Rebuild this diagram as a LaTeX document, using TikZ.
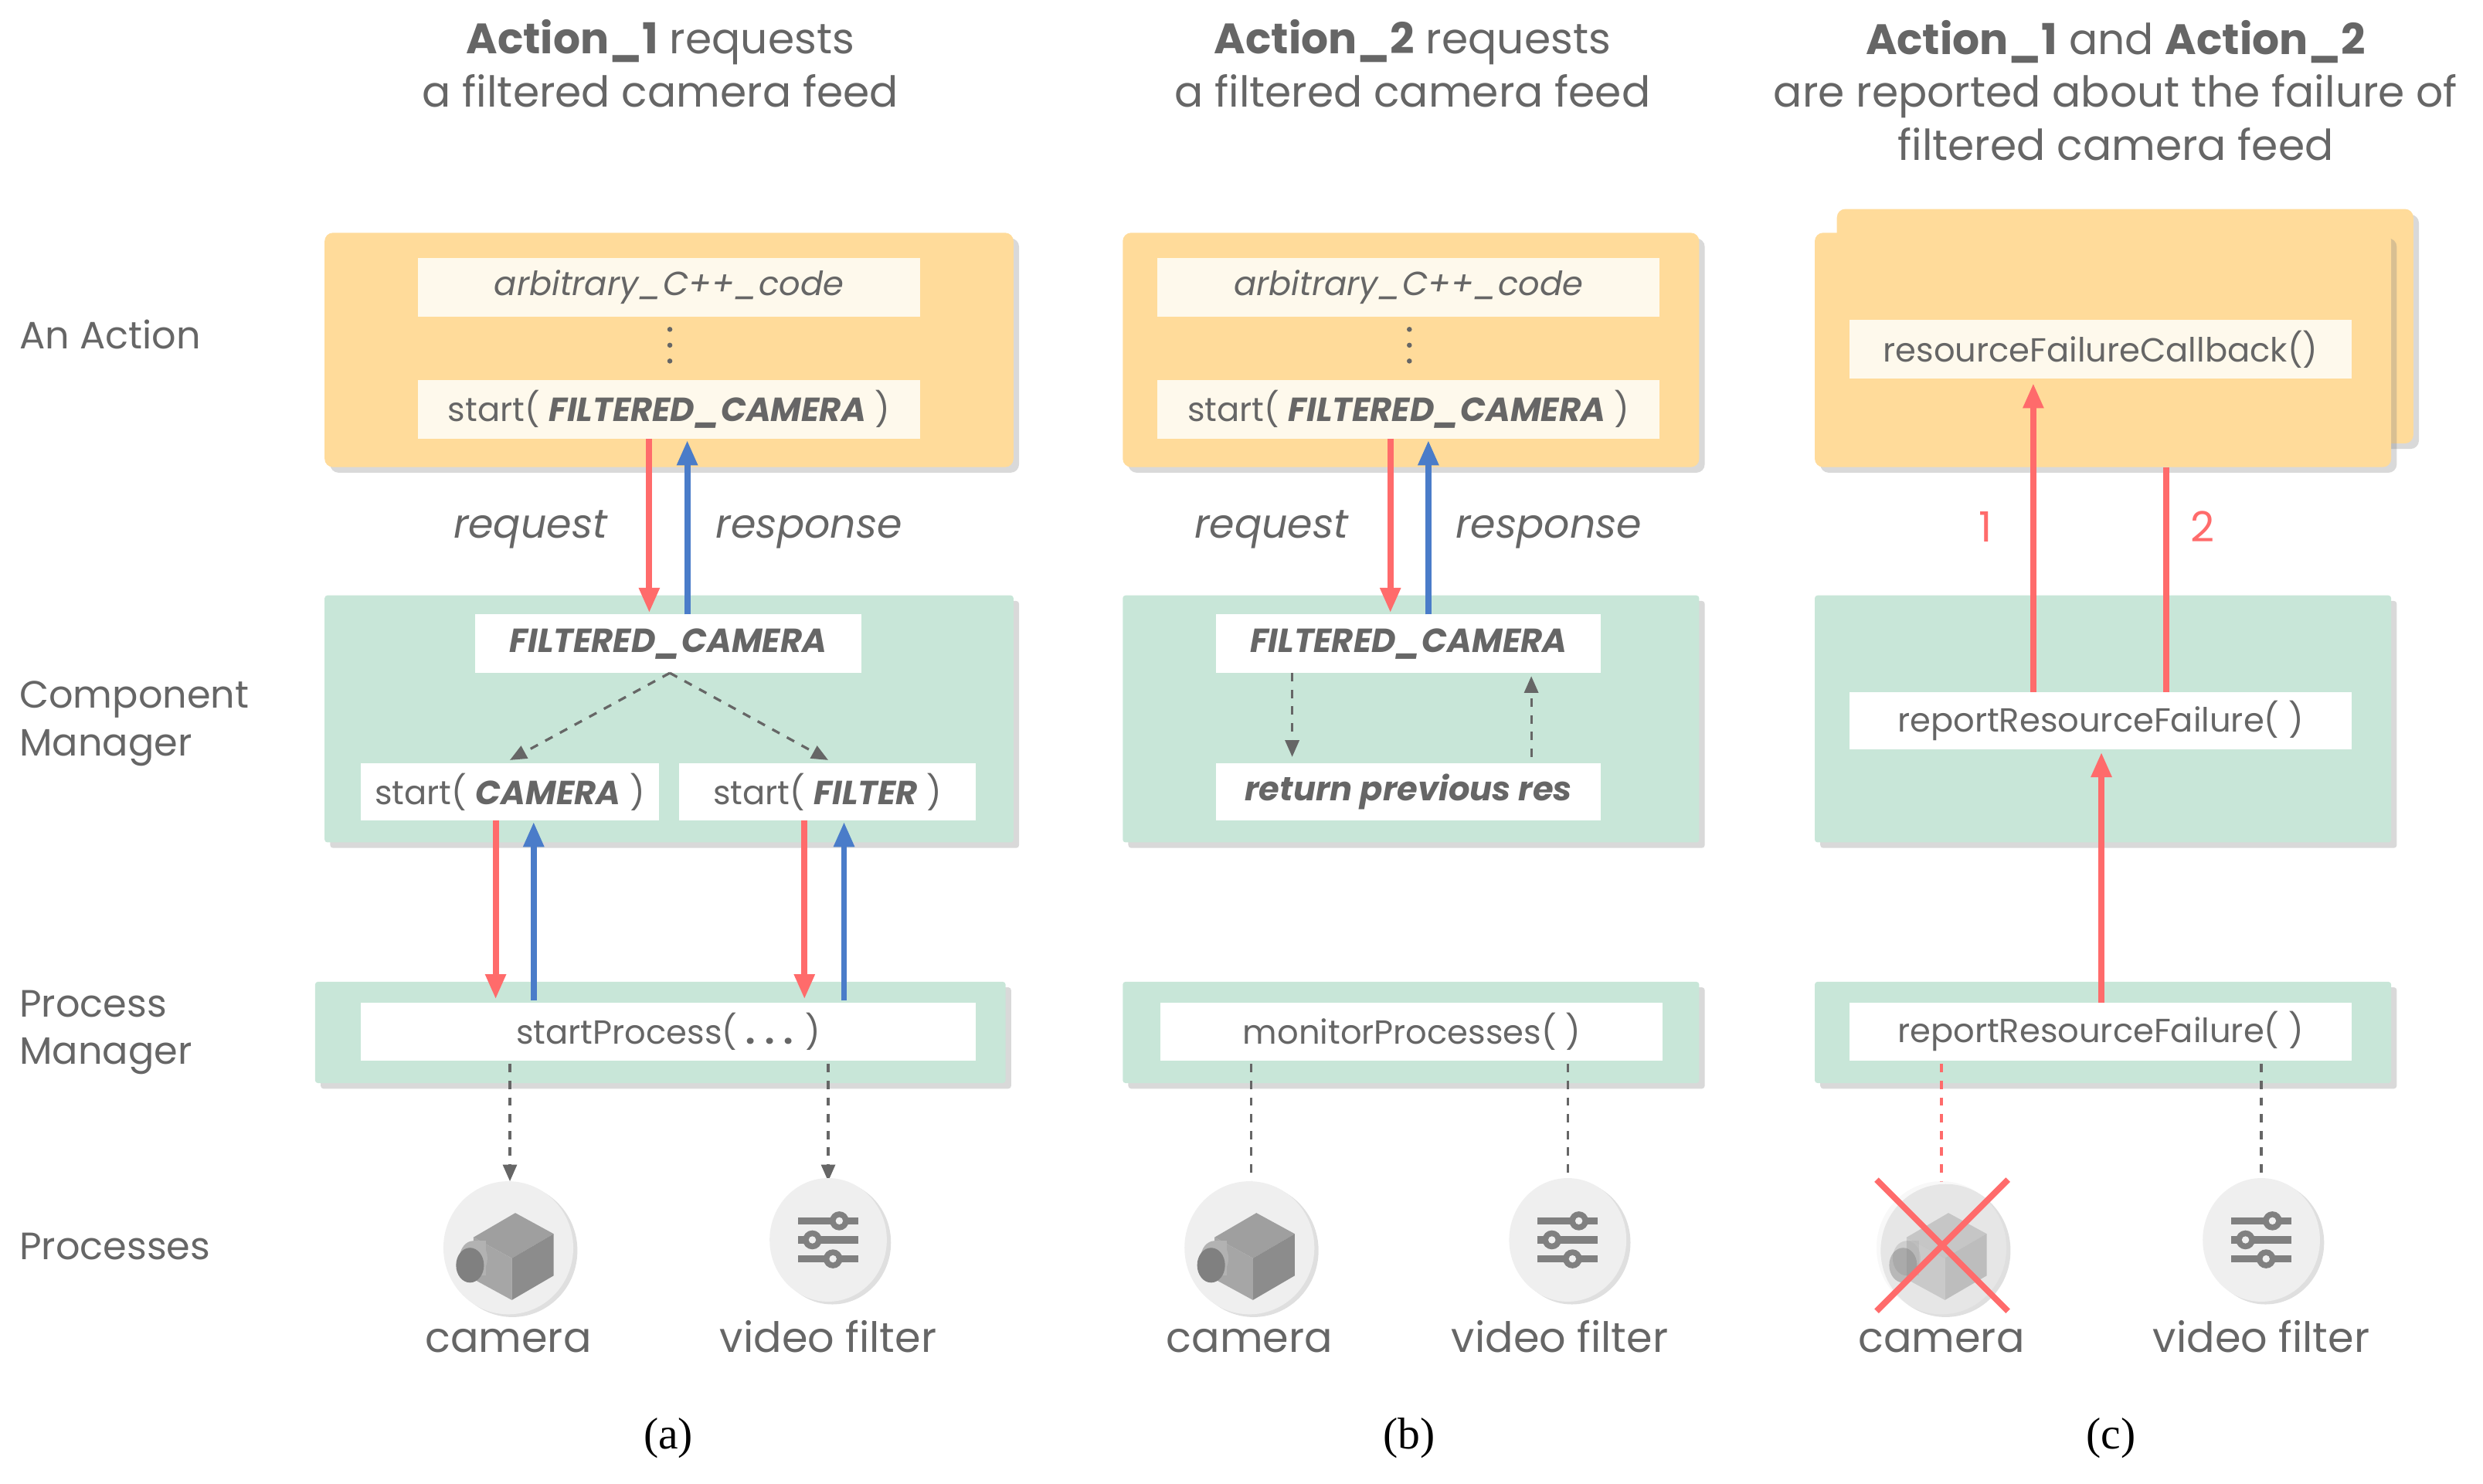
\documentclass[tikz,border=0pt]{standalone}
\usepackage{fontspec}
\setmainfont{Poppins}
\newfontfamily\serifcap{Liberation Serif}
\usetikzlibrary{shadows,arrows.meta}
\definecolor{txt}{HTML}{666666}
\definecolor{ora}{HTML}{FFDB9A}
\definecolor{inn}{HTML}{FEF9EC}
\definecolor{grn}{HTML}{C8E6D8}
\definecolor{rd}{HTML}{FF6B6B}
\definecolor{bl}{HTML}{4A7CC9}
\definecolor{circ}{HTML}{EFEFEF}
\begin{document}
\begin{tikzpicture}[x=0.02cm,y=-0.02cm,
  every node/.style={text=txt,inner sep=0pt},
  panel/.style={draw=none,drop shadow={shadow xshift=2pt,shadow yshift=-2pt,opacity=0.3}},
  abox/.style={panel,fill=ora,rounded corners=3pt},
  gbox/.style={panel,fill=grn,rounded corners=1pt},
  ibox/.style={fill=inn},
  wbox/.style={fill=white},
  btxt/.style={font=\fontsize{12}{15}\selectfont},
  ttl/.style={font=\fontsize{15.3}{19}\selectfont,align=center},
  side/.style={font=\fontsize{13.7}{17}\selectfont,anchor=west,align=left},
  plabel/.style={font=\fontsize{15}{19}\selectfont,anchor=base},
  ilab/.style={font=\fontsize{14.5}{18}\selectfont\itshape,anchor=base},
  captxt/.style={font=\serifcap\fontsize{16}{19}\selectfont,text=black},
  ra/.style={draw=rd,line width=2.2pt,-{Triangle[length=9pt,width=7pt]}},
  ba/.style={draw=bl,line width=2.2pt,-{Triangle[length=9pt,width=7pt]}},
  da/.style={draw=txt,dashed,line width=0.9pt,-{Triangle[length=6pt,width=5pt]}},
  dl/.style={draw=txt,dashed,line width=0.9pt},
]
\useasboundingbox (0,0) rectangle (1568,937);
\newcommand{\camicon}[3]{% x y opacity
 \begin{scope}[shift={(#1,#2)},opacity=#3]
  \fill[circ,drop shadow={shadow xshift=1.5pt,shadow yshift=-1pt,opacity=0.25}] (0,0) ellipse (41 and 42);
  \begin{scope}[scale=1.1]
  \fill[gray!75] (-20,-6) -- (4,-20) -- (26,-8) -- (2,6) -- cycle;
  \fill[gray!90] (2,6) -- (26,-8) -- (26,16) -- (2,30) -- cycle;
  \fill[gray!130!black] (-20,-6) -- (2,6) -- (2,30) -- (-20,18) -- cycle;
  \fill[gray!60] (-20,6) ellipse (8 and 10);
  \fill[gray!60] (-20,-4) -- (-13,-4) -- (-13,16) -- (-20,16) -- cycle;
  \fill[gray] (-22,10) ellipse (8 and 10);
  \end{scope}
 \end{scope}}
\newcommand{\filticon}[2]{%
 \begin{scope}[shift={(#1,#2)}]
  \fill[circ,drop shadow={shadow xshift=1.5pt,shadow yshift=-1pt,opacity=0.25}] (0,0) ellipse (37 and 39);
  \foreach \yy/\xx in {-12/7,0/-10,12/3}{
   \draw[gray,line width=2.6pt] (-19,\yy) -- (19,\yy);
   \fill[gray] (\xx,\yy) circle (6);
   \fill[circ] (\xx,\yy) circle (2.3);}
 \end{scope}}
% side labels
\node[side] (la) at (12,211) {An Action};
\node[side] (lc) at (12,457) {Component\\Manager};
\node[side] (lp) at (12,652) {Process\\Manager};
\node[side] (lq) at (12,787) {Processes};
% titles
\node[ttl] (ta) at (417,40) {\textbf{Action\_1} requests\\a filtered camera feed};
\node[ttl] (tb) at (892,40) {\textbf{Action\_2} requests\\a filtered camera feed};
\node[ttl] (tc) at (1336,57) {\textbf{Action\_1} and \textbf{Action\_2}\\are reported about the failure of\\filtered camera feed};
% ===== (a)
\path[abox] (205,147) rectangle (640,295);
\path[gbox] (205,376) rectangle (640,532);
\path[gbox] (199,620) rectangle (635,684);
\node[ibox,btxt,minimum width=317*0.02cm,minimum height=37*0.02cm] (a1) at (422.5,181.5) {\itshape arbitrary\_C++\_code};
\node[ibox,btxt,minimum width=317*0.02cm,minimum height=37*0.02cm] (a2) at (422.5,258.5) {start( \textbf{\itshape FILTERED\_CAMERA} )};
\fill[txt] (423,208) circle (1.6) (423,218) circle (1.6) (423,228) circle (1.6);
\node[wbox,btxt,minimum width=244*0.02cm,minimum height=37*0.02cm] (a3) at (422,406.5) {\textbf{\itshape FILTERED\_CAMERA}};
\node[wbox,btxt,minimum width=188*0.02cm,minimum height=36*0.02cm] (a4) at (322,500) {start( \textbf{\itshape CAMERA} )};
\node[wbox,btxt,minimum width=187*0.02cm,minimum height=36*0.02cm] (a5) at (522.5,500) {start( \textbf{\itshape FILTER} )};
\node[wbox,btxt,minimum width=388*0.02cm,minimum height=37*0.02cm] (a6) at (422,651.5) {startProcess( \textbf{. . .} )};
\draw[ra] (410,277) -- (410,387);
\draw[ba] (434,388) -- (434,278);
\node[ilab] (rq1) at (335,340) {request};
\node[ilab] (rs1) at (511,340) {response};
\draw[da] (423,425) -- (322,480);
\draw[da] (423,425) -- (523,480);
\draw[ra] (313,518) -- (313,631);
\draw[ba] (337,632) -- (337,519);
\draw[ra] (508,518) -- (508,631);
\draw[ba] (533,632) -- (533,519);
\draw[da] (322,672) -- (322,746);
\draw[da] (523,672) -- (523,746);
\camicon{321}{788}{1}
\filticon{523}{783}
\node[plabel] (ca) at (321,854) {camera};
\node[plabel] (fa) at (523,854) {video filter};
\node[captxt] (capa) at (422,908) {(a)};
% ===== (b)
\path[abox] (709,147) rectangle (1073,295);
\path[gbox] (709,376) rectangle (1073,532);
\path[gbox] (709,620) rectangle (1073,684);
\node[ibox,btxt,minimum width=317*0.02cm,minimum height=37*0.02cm] (b1) at (889.5,181.5) {\itshape arbitrary\_C++\_code};
\node[ibox,btxt,minimum width=317*0.02cm,minimum height=37*0.02cm] (b2) at (889.5,258.5) {start( \textbf{\itshape FILTERED\_CAMERA} )};
\fill[txt] (890,208) circle (1.6) (890,218) circle (1.6) (890,228) circle (1.6);
\node[wbox,btxt,minimum width=243*0.02cm,minimum height=37*0.02cm] (b3) at (889.5,406.5) {\textbf{\itshape FILTERED\_CAMERA}};
\node[wbox,btxt,minimum width=243*0.02cm,minimum height=36*0.02cm] (b4) at (889.5,500) {\textbf{\itshape return previous res}};
\node[wbox,btxt,minimum width=317*0.02cm,minimum height=37*0.02cm] (b5) at (891.5,651.5) {monitorProcesses( )};
\draw[ra] (878,277) -- (878,387);
\draw[ba] (902,388) -- (902,278);
\node[ilab] (rq2) at (803,340) {request};
\node[ilab] (rs2) at (978,340) {response};
\draw[da] (816,425) -- (816,478);
\draw[da] (967,478) -- (967,427);
\draw[dl] (790,672) -- (790,746);
\draw[dl] (990,672) -- (990,746);
\camicon{789}{788}{1}
\filticon{990}{783}
\node[plabel] (cb) at (789,854) {camera};
\node[plabel] (fb) at (985,854) {video filter};
\node[captxt] (capb) at (890,908) {(b)};
% ===== (c)
\path[abox] (1160,132) rectangle (1524,280);
\path[abox] (1146,147) rectangle (1510,295);
\path[gbox] (1146,376) rectangle (1510,532);
\path[gbox] (1146,620) rectangle (1510,684);
\node[ibox,btxt,minimum width=317*0.02cm,minimum height=37*0.02cm] (c1) at (1326.5,220.5) {resourceFailureCallback()};
\node[wbox,btxt,minimum width=317*0.02cm,minimum height=36*0.02cm] (c2) at (1326.5,455) {reportResourceFailure( )};
\node[wbox,btxt,minimum width=317*0.02cm,minimum height=37*0.02cm] (c3) at (1326.5,651.5) {reportResourceFailure( )};
\draw[ra] (1284,437) -- (1284,242);
\draw[draw=rd,line width=2.2pt] (1368,437) -- (1368,295);
\node[plabel,text=rd] (n1) at (1254,342) {1};
\node[plabel,text=rd] (n2) at (1391,342) {2};
\draw[ra] (1327,633) -- (1327,475);
\draw[dashed,draw=rd,line width=0.9pt] (1226,672) -- (1226,746);
\draw[dl] (1428,672) -- (1428,746);
\camicon{1226}{788}{0.45}
\draw[rd,line width=2.2pt] (1185,745) -- (1268,828) (1268,745) -- (1185,828);
\filticon{1428}{783}
\node[plabel] (cc) at (1226,854) {camera};
\node[plabel] (fc) at (1428,854) {video filter};
\node[captxt] (capc) at (1333,908) {(c)};
\end{tikzpicture}
\end{document}
